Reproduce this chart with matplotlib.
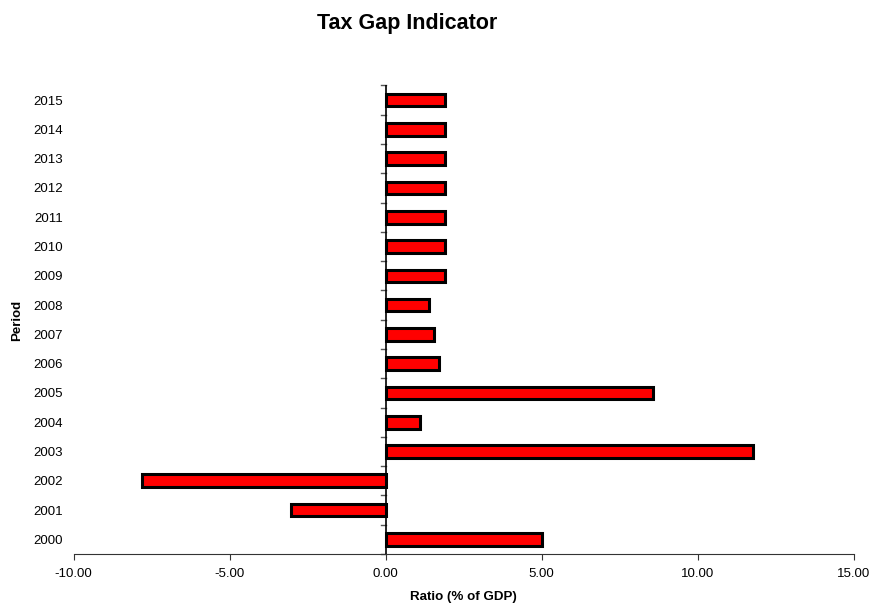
import matplotlib.pyplot as plt
import numpy as np

plt.rcParams['font.family'] = ['Liberation Sans', 'DejaVu Sans']

years = ['2000', '2001', '2002', '2003', '2004', '2005', '2006', '2007',
         '2008', '2009', '2010', '2011', '2012', '2013', '2014', '2015']
ratio = [5.0, -3.02, -7.81, 11.78, 1.09, 8.58, 1.71, 1.55,
         1.40, 1.91, 1.91, 1.91, 1.91, 1.91, 1.91, 1.91]
xticks = [-10, -5, 0, 5, 10, 15]

fig = plt.figure(figsize=(8.73, 6.05), dpi=100)
ax = fig.add_axes([73.5 / 873, 0.0843, 780 / 873, 0.7744])

y = np.arange(len(years))
ax.barh(y, ratio, height=0.43, color='#ff0000', edgecolor='black', linewidth=2.2, zorder=3)

ax.set_xlim(-10, 15)
ax.set_ylim(-0.5, len(years) - 0.5)
ax.set_xticks(xticks)
ax.set_xticklabels(['%.2f' % t for t in xticks], fontsize=9.5)

# y axis crosses at zero, year labels stay at the left edge
ax.set_yticks([])
for i, yr in enumerate(years):
    ax.text(-10.35, i, yr, ha='right', va='center_baseline', fontsize=9.5)
for b in np.arange(-0.5, len(years), 1.0):
    ax.plot([-0.14, 0], [b, b], color='#555555', lw=1, zorder=2, clip_on=False)

for s in ['top', 'right', 'left']:
    ax.spines[s].set_visible(False)
ax.spines['bottom'].set_color('#333333')
ax.axvline(0, color='black', lw=1.2, zorder=4)
ax.tick_params(axis='x', direction='out', length=4, color='#333333', pad=6)

fig.text(407 / 873, 1 - 24 / 605, 'Tax Gap Indicator', ha='center', va='center',
         fontsize=15.5, fontweight='bold')
fig.text(463 / 873, 1 - 597 / 605, 'Ratio (% of GDP)', ha='center', va='center',
         fontsize=9.6, fontweight='bold')
fig.text(17 / 873, 1 - 320 / 605, 'Period', ha='center', va='center',
         rotation=90, fontsize=9.5, fontweight='bold')

fig.savefig('out.png', dpi=100)
